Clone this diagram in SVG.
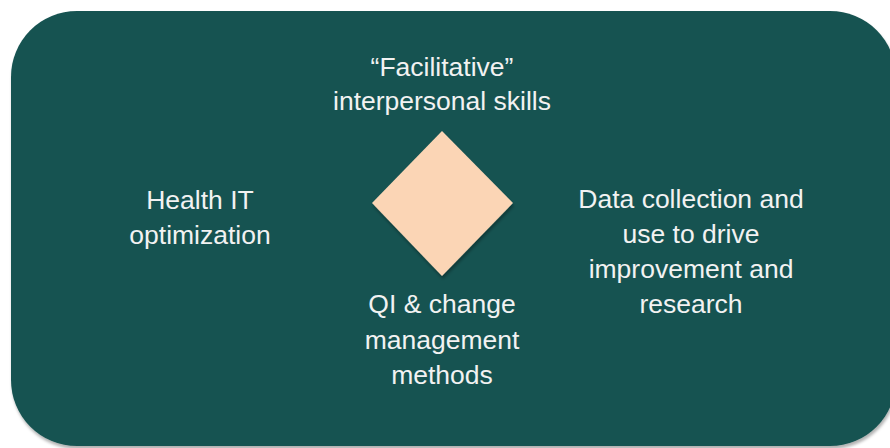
<svg xmlns="http://www.w3.org/2000/svg" width="890" height="448" viewBox="0 0 890 448">
  <defs>
    <filter id="shadow" x="-10%" y="-10%" width="120%" height="130%">
      <feDropShadow dx="1" dy="3" stdDeviation="1.5" flood-color="#000" flood-opacity="0.3"/>
    </filter>
    <style>
      .lbl { font-family: "Liberation Sans", Arial, sans-serif; font-size: 26.5px; fill: #f2f2f2; text-anchor: middle; }
    </style>
  </defs>
  <rect width="890" height="448" fill="#ffffff"/>
  <g id="panel">
    <rect x="11" y="11" width="885" height="435" rx="66" ry="66" fill="#175351" filter="url(#shadow)"/>
  </g>
  <g id="diamond">
    <polygon points="442,131 513,203 442,276 372,203" fill="#fbd5b5" filter="url(#shadow)"/>
  </g>
  <g id="connectors"></g>
  <g id="top">
    <text class="lbl" x="442" y="76">“Facilitative”</text>
    <text class="lbl" x="442" y="110">interpersonal skills</text>
  </g>
  <g id="left">
    <text class="lbl" x="200" y="209">Health IT</text>
    <text class="lbl" x="200" y="243.5">optimization</text>
  </g>
  <g id="right">
    <text class="lbl" x="691" y="208">Data collection and</text>
    <text class="lbl" x="691" y="243">use to drive</text>
    <text class="lbl" x="691" y="278">improvement and</text>
    <text class="lbl" x="691" y="313">research</text>
  </g>
  <g id="bottom">
    <text class="lbl" x="442" y="313">QI &amp; change</text>
    <text class="lbl" x="442" y="348.5">management</text>
    <text class="lbl" x="442" y="384">methods</text>
  </g>
</svg>
